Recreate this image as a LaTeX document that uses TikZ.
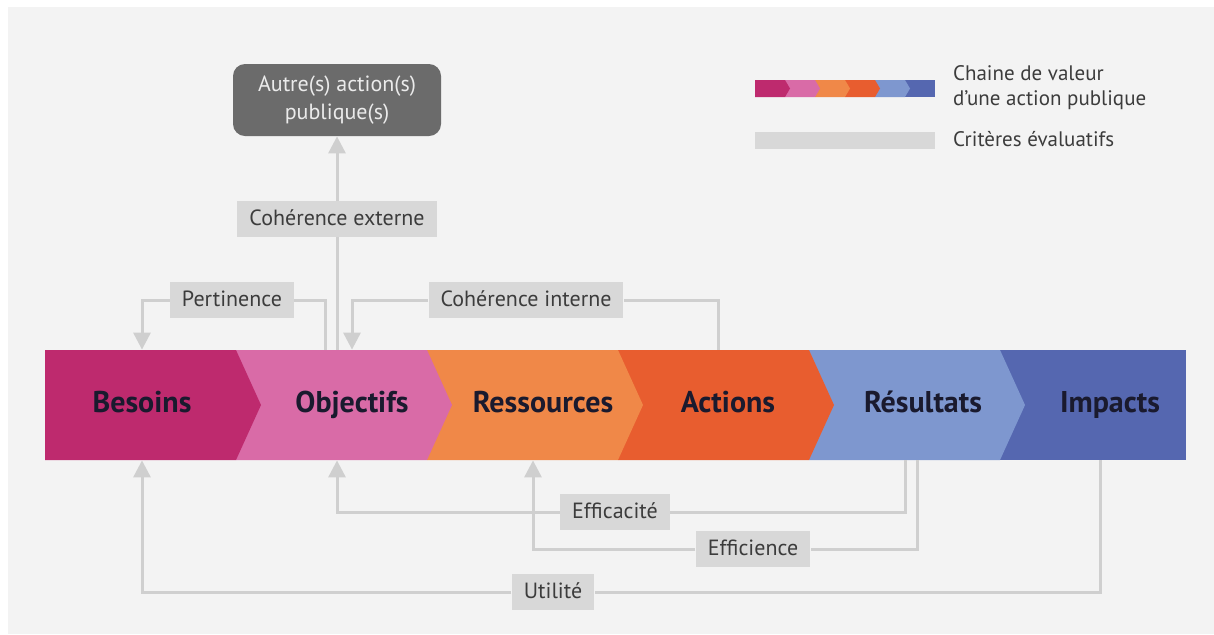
\documentclass[tikz,border=0pt]{standalone}
\usepackage{fontspec}
\setmainfont{PT Sans}
\usetikzlibrary{arrows.meta,calc}
\definecolor{cbes}{HTML}{BE2A6E}
\definecolor{cobj}{HTML}{D96BA7}
\definecolor{cres}{HTML}{F08848}
\definecolor{cact}{HTML}{E85D2F}
\definecolor{crsl}{HTML}{7E97CF}
\definecolor{cimp}{HTML}{5567B0}
\definecolor{cbg}{HTML}{F3F3F3}
\definecolor{cline}{HTML}{CFCFCF}
\definecolor{clab}{HTML}{D8D8D8}
\definecolor{clabtx}{HTML}{3C3C3C}
\definecolor{ctext}{HTML}{1A1A2E}
\definecolor{cautre}{HTML}{6B6B6B}
\begin{document}
\begin{tikzpicture}[x=0.5pt,y=-0.5pt,
  crit/.style={draw=cline,line width=1.5pt},
  tip/.style={-{Triangle[width=8.5pt,length=8.5pt]}},
  lab/.style={fill=clab,text=clabtx,font=\fontsize{11}{13}\selectfont,inner xsep=6pt,inner ysep=4pt,text height=8pt,text depth=2pt},
  seg/.style={font=\bfseries\fontsize{15}{18}\selectfont,text=ctext,minimum height=55pt,inner sep=0pt,text height=11pt,text depth=3.5pt},
  autre/.style={fill=cautre,text=white!92!black,rounded corners=6pt,align=center,font=\fontsize{11}{14}\selectfont,minimum width=104pt,minimum height=36pt}]
  \def\sw{191}
  \useasboundingbox (0,0) rectangle (1214,634);
  \fill[cbg] (8,7) rectangle (1214,634);
  \fill[cimp] (1000,350) rectangle (1186,460);
  \foreach \k/\c in {4/crsl,3/cact,2/cres,1/cobj,0/cbes}
    \fill[\c] ({45+\sw*\k},350) -- ++(\sw,0) -- ++(25,55) -- ++(-25,55) -- ++(-\sw,0) -- cycle;
  \foreach \n/\t/\x in {besoins/Besoins/142,objectifs/Objectifs/352,ressources/Ressources/543,actions/Actions/728,resultats/Résultats/923,impacts/Impacts/1110}
    \node[seg] (\n) at (\x,405) {\t};
  \node[autre] (autre) at (337,100) {Autre(s) action(s)\\publique(s)};
  \node[lab] (cext) at (337,219) {Cohérence externe};
  \node[lab] (pert) at (232,300) {Pertinence};
  \node[lab] (cint) at (526,300) {Cohérence interne};
  \node[lab] (effa) at (615,512) {Efficacité};
  \node[lab] (effi) at (753,549) {Efficience};
  \node[lab] (util) at (553,592) {Utilité};
  \draw[crit] ($(objectifs.north)+(-15,0)$) -- (cext);
  \draw[crit,tip] (cext) -- (autre);
  \draw[crit] ($(objectifs.north)+(-27,0)$) |- (pert);
  \draw[crit,tip] (pert) -| (besoins.north);
  \draw[crit] ($(actions.north)+(-10,0)$) |- (cint);
  \draw[crit,tip] (cint) -| (objectifs.north);
  \draw[crit] ($(resultats.south)+(-18,0)$) |- (effa);
  \draw[crit,tip] (effa) -| ($(objectifs.south)+(-15,0)$);
  \draw[crit] ($(resultats.south)+(-6,0)$) |- (effi);
  \draw[crit,tip] (effi) -| ($(ressources.south)+(-10,0)$);
  \draw[crit] ($(impacts.south)+(-10,0)$) |- (util);
  \draw[crit,tip] (util) -| (besoins.south);
  \fill[cimp] (905,80) rectangle (935,97);
  \foreach \k/\c in {4/crsl,3/cact,2/cres,1/cobj,0/cbes}
    \fill[\c] ({755+30*\k},80) -- ++(30,0) -- ++(5,8.5) -- ++(-5,8.5) -- ++(-30,0) -- cycle;
  \fill[clab] (755,132) rectangle (935,149);
  \node[anchor=west,align=left,text=clabtx,font=\fontsize{10.5}{12.5}\selectfont] (lchain) at (946,88) {Chaine de valeur\\d'une action publique};
  \node[anchor=west,text=clabtx,font=\fontsize{10.5}{12.5}\selectfont] (lcrit) at (946,139) {Critères évaluatifs};
\end{tikzpicture}
\end{document}
